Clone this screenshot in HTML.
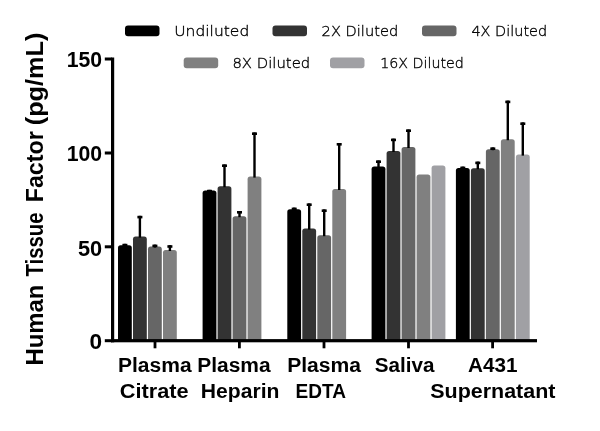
<!DOCTYPE html>
<html lang="en">
<head>
<meta charset="utf-8">
<title>Human Tissue Factor</title>
<style>
html,body{margin:0;padding:0;background:#fff;}
body{width:600px;height:431px;overflow:hidden;}
svg{display:block;}
text{font-family:"Liberation Sans",sans-serif;}
.b{font-weight:bold;fill:#000;}
.l{font-family:"DejaVu Sans Light","DejaVu Sans","Liberation Sans",sans-serif;font-weight:200;fill:#000;stroke:#000;stroke-width:0.35px;}
</style>
</head>
<body>
<svg width="600" height="431" viewBox="0 0 600 431">
<rect width="600" height="431" fill="#fff"/>
<path d="M118.0 340.0V247.8Q118.0 245.2 120.6 245.2H129.2Q131.8 245.2 131.8 247.8V340.0Z" fill="#000000"/>
<rect x="123.7" y="243.8" width="2.4" height="2.4" fill="#000"/><rect x="122.4" y="243.8" width="5" height="2.6" fill="#000"/>
<path d="M133.0 340.0V239.2Q133.0 236.6 135.6 236.6H144.2Q146.8 236.6 146.8 239.2V340.0Z" fill="#333333"/>
<rect x="138.7" y="215.8" width="2.4" height="21.8" fill="#000"/><rect x="137.4" y="215.8" width="5" height="2.6" fill="#000"/>
<path d="M148.0 340.0V249.2Q148.0 246.6 150.6 246.6H159.2Q161.8 246.6 161.8 249.2V340.0Z" fill="#666666"/>
<rect x="153.7" y="244.6" width="2.4" height="3.0" fill="#000"/><rect x="152.4" y="244.6" width="5" height="2.6" fill="#000"/>
<path d="M163.0 340.0V252.6Q163.0 250.0 165.6 250.0H174.2Q176.8 250.0 176.8 252.6V340.0Z" fill="#808080"/>
<rect x="168.7" y="245.2" width="2.4" height="5.8" fill="#000"/><rect x="167.4" y="245.2" width="5" height="2.6" fill="#000"/>
<path d="M202.6 340.0V193.2Q202.6 190.6 205.2 190.6H213.8Q216.4 190.6 216.4 193.2V340.0Z" fill="#000000"/>
<rect x="208.3" y="189.8" width="2.4" height="1.8" fill="#000"/><rect x="207.0" y="189.8" width="5" height="2.6" fill="#000"/>
<path d="M217.6 340.0V188.8Q217.6 186.2 220.2 186.2H228.8Q231.4 186.2 231.4 188.8V340.0Z" fill="#333333"/>
<rect x="223.3" y="164.4" width="2.4" height="22.8" fill="#000"/><rect x="222.0" y="164.4" width="5" height="2.6" fill="#000"/>
<path d="M232.6 340.0V218.8Q232.6 216.2 235.2 216.2H243.8Q246.4 216.2 246.4 218.8V340.0Z" fill="#666666"/>
<rect x="238.3" y="211.0" width="2.4" height="6.2" fill="#000"/><rect x="237.0" y="211.0" width="5" height="2.6" fill="#000"/>
<path d="M247.6 340.0V179.2Q247.6 176.6 250.2 176.6H258.8Q261.4 176.6 261.4 179.2V340.0Z" fill="#808080"/>
<rect x="253.3" y="132.4" width="2.4" height="45.2" fill="#000"/><rect x="252.0" y="132.4" width="5" height="2.6" fill="#000"/>
<path d="M287.3 340.0V211.8Q287.3 209.2 289.9 209.2H298.5Q301.1 209.2 301.1 211.8V340.0Z" fill="#000000"/>
<rect x="293.0" y="207.6" width="2.4" height="2.6" fill="#000"/><rect x="291.7" y="207.6" width="5" height="2.6" fill="#000"/>
<path d="M302.3 340.0V231.2Q302.3 228.6 304.9 228.6H313.5Q316.1 228.6 316.1 231.2V340.0Z" fill="#333333"/>
<rect x="308.0" y="203.4" width="2.4" height="26.2" fill="#000"/><rect x="306.7" y="203.4" width="5" height="2.6" fill="#000"/>
<path d="M317.3 340.0V237.8Q317.3 235.2 319.9 235.2H328.5Q331.1 235.2 331.1 237.8V340.0Z" fill="#666666"/>
<rect x="323.0" y="209.4" width="2.4" height="26.8" fill="#000"/><rect x="321.7" y="209.4" width="5" height="2.6" fill="#000"/>
<path d="M332.3 340.0V191.6Q332.3 189.0 334.9 189.0H343.5Q346.1 189.0 346.1 191.6V340.0Z" fill="#808080"/>
<rect x="338.0" y="143.0" width="2.4" height="47.0" fill="#000"/><rect x="336.7" y="143.0" width="5" height="2.6" fill="#000"/>
<path d="M371.6 340.0V169.2Q371.6 166.6 374.2 166.6H382.8Q385.4 166.6 385.4 169.2V340.0Z" fill="#000000"/>
<rect x="377.3" y="160.4" width="2.4" height="7.2" fill="#000"/><rect x="376.0" y="160.4" width="5" height="2.6" fill="#000"/>
<path d="M386.6 340.0V153.6Q386.6 151.0 389.2 151.0H397.8Q400.4 151.0 400.4 153.6V340.0Z" fill="#333333"/>
<rect x="392.3" y="138.6" width="2.4" height="13.4" fill="#000"/><rect x="391.0" y="138.6" width="5" height="2.6" fill="#000"/>
<path d="M401.6 340.0V149.6Q401.6 147.0 404.2 147.0H412.8Q415.4 147.0 415.4 149.6V340.0Z" fill="#666666"/>
<rect x="407.3" y="129.4" width="2.4" height="18.6" fill="#000"/><rect x="406.0" y="129.4" width="5" height="2.6" fill="#000"/>
<path d="M416.6 340.0V177.2Q416.6 174.6 419.2 174.6H427.8Q430.4 174.6 430.4 177.2V340.0Z" fill="#808080"/>
<path d="M431.6 340.0V168.2Q431.6 165.6 434.2 165.6H442.8Q445.4 165.6 445.4 168.2V340.0Z" fill="#a0a0a4"/>
<path d="M455.9 340.0V170.6Q455.9 168.0 458.5 168.0H467.1Q469.7 168.0 469.7 170.6V340.0Z" fill="#000000"/>
<rect x="461.6" y="166.6" width="2.4" height="2.4" fill="#000"/><rect x="460.3" y="166.6" width="5" height="2.6" fill="#000"/>
<path d="M470.9 340.0V170.8Q470.9 168.2 473.5 168.2H482.1Q484.7 168.2 484.7 170.8V340.0Z" fill="#333333"/>
<rect x="476.6" y="161.6" width="2.4" height="7.6" fill="#000"/><rect x="475.3" y="161.6" width="5" height="2.6" fill="#000"/>
<path d="M485.9 340.0V151.8Q485.9 149.2 488.5 149.2H497.1Q499.7 149.2 499.7 151.8V340.0Z" fill="#666666"/>
<rect x="491.6" y="147.4" width="2.4" height="2.8" fill="#000"/><rect x="490.3" y="147.4" width="5" height="2.6" fill="#000"/>
<path d="M500.9 340.0V141.8Q500.9 139.2 503.5 139.2H512.1Q514.7 139.2 514.7 141.8V340.0Z" fill="#808080"/>
<rect x="506.6" y="100.6" width="2.4" height="39.6" fill="#000"/><rect x="505.3" y="100.6" width="5" height="2.6" fill="#000"/>
<path d="M515.9 340.0V157.2Q515.9 154.6 518.5 154.6H527.1Q529.7 154.6 529.7 157.2V340.0Z" fill="#a0a0a4"/>
<rect x="521.6" y="122.4" width="2.4" height="33.2" fill="#000"/><rect x="520.3" y="122.4" width="5" height="2.6" fill="#000"/>
<rect x="111" y="57.5" width="3.2" height="284.8" fill="#000"/>
<rect x="111" y="339.1" width="426" height="3.2" fill="#000"/>
<rect x="104.8" y="57.5" width="7" height="3" fill="#000"/>
<rect x="104.8" y="151.5" width="7" height="3" fill="#000"/>
<rect x="104.8" y="245.3" width="7" height="3" fill="#000"/>
<rect x="104.8" y="339.2" width="7" height="3" fill="#000"/>
<rect x="153.6" y="341" width="2.8" height="7.3" fill="#000"/>
<rect x="238.0" y="341" width="2.8" height="7.3" fill="#000"/>
<rect x="322.6" y="341" width="2.8" height="7.3" fill="#000"/>
<rect x="407.1" y="341" width="2.8" height="7.3" fill="#000"/>
<rect x="491.2" y="341" width="2.8" height="7.3" fill="#000"/>
<text class="b" x="102.1" y="67.4" font-size="22.8" text-anchor="end" textLength="35.4" lengthAdjust="spacingAndGlyphs">150</text>
<text class="b" x="102.1" y="161.4" font-size="22.8" text-anchor="end" textLength="35.4" lengthAdjust="spacingAndGlyphs">100</text>
<text class="b" x="102.1" y="255.5" font-size="22.8" text-anchor="end" textLength="24.2" lengthAdjust="spacingAndGlyphs">50</text>
<text class="b" x="102.1" y="349.4" font-size="22.8" text-anchor="end" textLength="12.6" lengthAdjust="spacingAndGlyphs">0</text>
<text class="b" x="118.0" y="372" font-size="20.3" textLength="73.6" lengthAdjust="spacingAndGlyphs">Plasma</text>
<text class="b" x="119.8" y="398" font-size="20.3" textLength="68.8" lengthAdjust="spacingAndGlyphs">Citrate</text>
<text class="b" x="197.2" y="372" font-size="20.3" textLength="73.4" lengthAdjust="spacingAndGlyphs">Plasma</text>
<text class="b" x="200.8" y="398" font-size="20.3" textLength="78.6" lengthAdjust="spacingAndGlyphs">Heparin</text>
<text class="b" x="287.2" y="372" font-size="20.3" textLength="73.9" lengthAdjust="spacingAndGlyphs">Plasma</text>
<text class="b" x="295.6" y="398" font-size="20.3" textLength="50.4" lengthAdjust="spacingAndGlyphs">EDTA</text>
<text class="b" x="374.8" y="372" font-size="20.3" textLength="59.7" lengthAdjust="spacingAndGlyphs">Saliva</text>
<text class="b" x="468.0" y="372" font-size="20.3" textLength="49.5" lengthAdjust="spacingAndGlyphs">A431</text>
<text class="b" x="430.2" y="398" font-size="20.3" textLength="125.3" lengthAdjust="spacingAndGlyphs">Supernatant</text>
<text class="b" transform="translate(42.8,365.6) rotate(-90)" font-size="23" textLength="81.0" lengthAdjust="spacingAndGlyphs">Human</text>
<text class="b" transform="translate(42.8,276.5) rotate(-90)" font-size="23" textLength="64.0" lengthAdjust="spacingAndGlyphs">Tissue</text>
<text class="b" transform="translate(42.8,202.3) rotate(-90)" font-size="23" textLength="71.0" lengthAdjust="spacingAndGlyphs">Factor</text>
<text class="b" transform="translate(42.8,125.2) rotate(-90)" font-size="23" textLength="92.5" lengthAdjust="spacingAndGlyphs">(pg/mL)</text>
<rect x="125" y="25.5" width="34.5" height="10.7" rx="3" ry="3" fill="#000000"/><text class="l" x="174.2" y="36.2" font-size="14.7" textLength="75.1" lengthAdjust="spacingAndGlyphs">Undiluted</text>
<rect x="272.5" y="25.5" width="34.5" height="10.7" rx="3" ry="3" fill="#333333"/><text class="l" x="321.6" y="36.2" font-size="14.7" textLength="76.6" lengthAdjust="spacingAndGlyphs">2X Diluted</text>
<rect x="422" y="25.5" width="34.5" height="10.7" rx="3" ry="3" fill="#666666"/><text class="l" x="471.4" y="36.2" font-size="14.7" textLength="75.8" lengthAdjust="spacingAndGlyphs">4X Diluted</text>
<rect x="183.7" y="57.5" width="34.5" height="10.7" rx="3" ry="3" fill="#808080"/><text class="l" x="232.4" y="68.2" font-size="14.7" textLength="77.8" lengthAdjust="spacingAndGlyphs">8X Diluted</text>
<rect x="330" y="57.5" width="34.5" height="10.7" rx="3" ry="3" fill="#a0a0a4"/><text class="l" x="380.2" y="68.2" font-size="14.7" textLength="83.6" lengthAdjust="spacingAndGlyphs">16X Diluted</text>
</svg>
</body>
</html>
